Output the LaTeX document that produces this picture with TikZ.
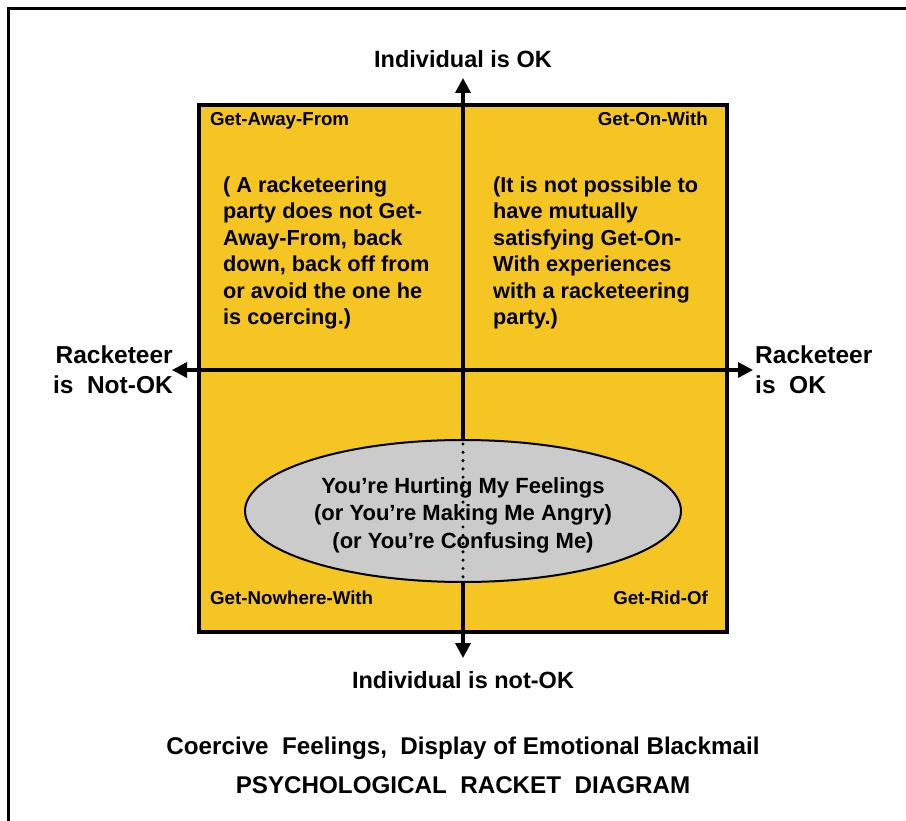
\documentclass[tikz,border=0pt]{standalone}
\usepackage{fontspec}
\setmainfont{Liberation Sans}
\usepackage{xcolor}
\usetikzlibrary{arrows.meta,shapes.geometric,positioning}
\definecolor{racketgold}{HTML}{F5C523}
\definecolor{racketgray}{HTML}{CBCBCB}

\begin{document}
\begin{tikzpicture}[x=1pt,y=-1pt,
  axis/.style={line width=3.4pt,-{Triangle[length=15pt,width=15pt]}},
  axislabel/.style={font=\bfseries\fontsize{23.5}{31}\selectfont,inner sep=0pt},
  corner/.style={font=\bfseries\fontsize{18.7}{22}\selectfont,inner sep=0pt},
  bodytext/.style={font=\bfseries\fontsize{21.7}{26.6}\selectfont,inner sep=0pt,align=left},
  titletext/.style={font=\bfseries\fontsize{24.2}{28}\selectfont,inner sep=0pt}]
  \useasboundingbox (0,0) rectangle (906,821);
  \draw[line width=3pt] (8,821) -- (8,9) -- (906,9);
  % the four quadrants
  \draw[line width=4pt,fill=racketgold] (199,105) rectangle (727,632);
  \coordinate (O) at (463,370);
  \coordinate (N) at (463,78);
  \coordinate (S) at (463,658);
  \coordinate (W) at (172,370);
  \coordinate (E) at (753,370);
  \draw[axis] (O) -- (N);
  \draw[axis] (O) -- (S);
  \draw[axis] (O) -- (W);
  \draw[axis] (O) -- (E);
  \node[axislabel,anchor=base] (indok) at (463,68) {Individual is OK};
  \node[axislabel,anchor=base] (indnotok) at (463,688) {Individual is not-OK};
  % multi-line nodes: base is the last line
  \node[axislabel,font=\bfseries\fontsize{24.5}{31}\selectfont,anchor=base east,align=right] (racknotok) at (173,394) {Racketeer\\is\ \ Not-OK};
  \node[axislabel,font=\bfseries\fontsize{24.5}{31}\selectfont,anchor=base west,align=left] (rackok) at (755,394) {Racketeer\\is\ \ OK};
  \node[corner,anchor=base west] (awayfrom) at (210,126) {Get-Away-From};
  \node[corner,anchor=base east] (onwith) at (708,126) {Get-On-With};
  \node[corner,anchor=base west] (nowhere) at (210,604) {Get-Nowhere-With};
  \node[corner,anchor=base east] (ridof) at (708,604) {Get-Rid-Of};
  \node[bodytext,anchor=base west] (awaynote) at (223,325) {( A racketeering\\party does not Get-\\Away-From, back\\down, back off from\\or avoid the one he\\is coercing.)};
  \node[bodytext,anchor=base west] (withnote) at (493,325) {(It is not possible to\\have mutually\\satisfying Get-On-\\With experiences\\with a racketeering\\party.)};
  % the racket itself sits over the axis
  \node[ellipse,draw,line width=2pt,fill=racketgray,minimum width=436pt,minimum height=142pt,inner sep=0pt] (racket) at (463,511) {};
  \node[align=center,inner sep=0pt,font=\bfseries\fontsize{22}{27.3}\selectfont,anchor=base] (racketnote) at (463,548)
    {You’re Hurting My Feelings\\(or You’re Making Me Angry)\\(or You’re Confusing Me)};
  \draw[line width=3.4pt,line cap=round,dash pattern=on 0pt off 8.3pt] ([yshift=-5pt]racket.north) -- ([yshift=5pt]racket.south);
  \node[titletext,anchor=base] (subtitle) at (463,754) {Coercive\ \ Feelings,\ \ Display of Emotional Blackmail};
  \node[titletext,anchor=base] (title) at (463,793) {PSYCHOLOGICAL\ \ RACKET\ \ DIAGRAM};
\end{tikzpicture}
\end{document}
